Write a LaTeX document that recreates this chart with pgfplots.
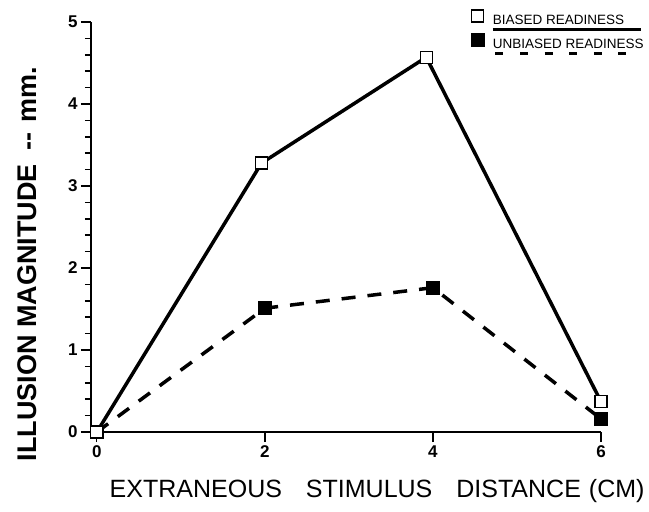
\documentclass[border=0pt]{standalone}
\usepackage{fontspec}
\setmainfont{Liberation Sans}
\usepackage{pgfplots}
\pgfplotsset{compat=1.18}
\newcommand{\biasedlab}{\vtop{\offinterlineskip\hbox{BIASED READINESS}\kern3pt\hrule height 2.6pt width 148pt}}
\newcommand{\unbiasedlab}{\vtop{\offinterlineskip\hbox{UNBIASED READINESS}\kern3pt\hbox to 150pt{\xleaders\hbox{\vrule height 2.6pt depth 0pt width 8pt\hskip 14pt}\hfill}}}
\begin{document}
\begin{tikzpicture}
\begin{axis}[
  scale only axis, width=510pt, height=410pt,
  xmin=-0.07, xmax=6, ymin=0, ymax=5,
  axis x line*=bottom, axis y line*=left,
  x axis line style={line width=1.8pt},
  y axis line style={line width=2.6pt},
  xtick={0,2,4,6}, ytick={0,1,2,3,4,5}, minor y tick num=4,
  tick align=outside, major tick length=10pt, minor tick length=6pt,
  xtick style={line width=1.2pt, black},
  ytick style={line width=1.5pt, black},
  minor tick style={line width=1.2pt},
  ticklabel style={font=\bfseries\fontsize{17}{17}\selectfont},
  /pgf/number format/assume math mode=true,
  clip=false,
  reverse legend,
  legend style={at={(1.088,1.03)}, anchor=north east, draw=none, fill=none,
    inner sep=0pt, row sep=5pt, font=\fontsize{13.5}{13.5}\selectfont,
    cells={anchor=west},
    /tikz/every odd column/.append style={column sep=7pt}},
  legend image code/.code={\draw[#1] plot[only marks] coordinates {(0pt,5pt)};},
]
\addplot[line width=3.5pt, dash pattern=on 14pt off 12pt, mark=square*, mark size=6.5pt,
  mark options={solid, fill=black, draw=black, line width=0.5pt}]
  coordinates {(0,0) (2,1.51) (4,1.76) (6,0.16)};
\addlegendentry{\unbiasedlab}
\addplot[line width=3.5pt, mark=square*, mark size=6pt,
  mark options={solid, fill=white, draw=black, line width=1.2pt}]
  coordinates {(0,0) (1.96,3.28) (3.92,4.57) (6,0.37)};
\addlegendentry{\biasedlab}
\node[rotate=90, anchor=center, font=\bfseries\fontsize{27}{27}\selectfont]
  at (rel axis cs:-0.125,0.41) {ILLUSION MAGNITUDE\hspace{14pt}{-}{-}\hspace{10pt}mm.};
\node[anchor=center, font=\fontsize{25}{25}\selectfont]
  at (rel axis cs:0.561,-0.144) {EXTRANEOUS\hspace{24pt}STIMULUS\hspace{24pt}DISTANCE\hspace{8pt}(CM)};
\path (rel axis cs:-0.1784,-0.1927) rectangle (rel axis cs:1.0941,1.0537);
\end{axis}
\end{tikzpicture}
\end{document}
